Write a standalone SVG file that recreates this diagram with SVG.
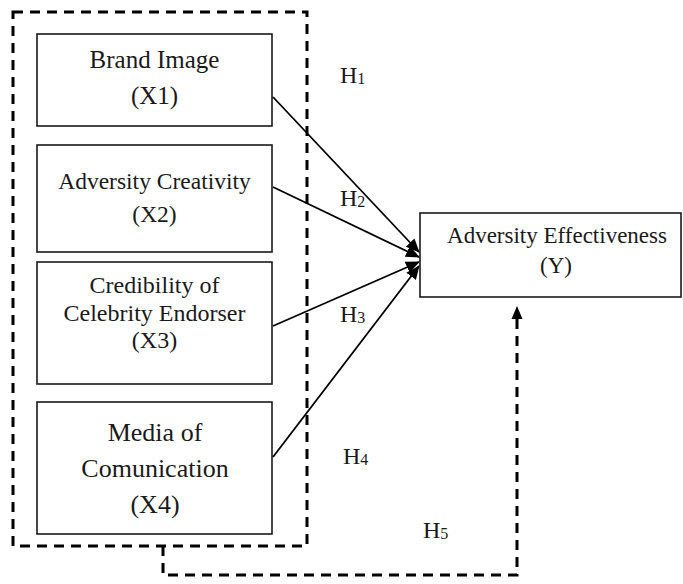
<svg xmlns="http://www.w3.org/2000/svg" width="683" height="584" viewBox="0 0 683 584">
  <style>
    .box { fill: #ffffff; stroke: #1a1a1a; stroke-width: 1.6; }
    .group { fill: none; stroke: #000000; stroke-width: 3; stroke-dasharray: 10 7; }
    .lbl { font-family: "Liberation Serif", "Times New Roman", serif; fill: #1a1a1a; text-anchor: middle; }
    .hyp { font-family: "Liberation Serif", "Times New Roman", serif; fill: #1a1a1a; font-size: 24px; }
    .sub { font-size: 16px; }
    .link { fill: none; stroke: #000000; stroke-width: 1.8; }
    .dlink { fill: none; stroke: #000000; stroke-width: 3; stroke-dasharray: 10 7; }
  </style>
  <defs>
    <marker id="arrow" markerUnits="userSpaceOnUse" markerWidth="14" markerHeight="12" viewBox="0 0 14 12" refX="13" refY="6" orient="auto">
      <path d="M0,0 L14,6 L0,12 Z" fill="#000000"/>
    </marker>
  </defs>

  <rect x="0" y="0" width="683" height="584" fill="#ffffff"/>

  <!-- dashed frame around the independent variables -->
  <rect class="group" x="13" y="12" width="294" height="534"/>

  <g id="x1">
    <rect class="box" x="37" y="34" width="235" height="92"/>
    <text class="lbl" x="154.5" y="68" font-size="25">Brand Image</text>
    <text class="lbl" x="154.5" y="104" font-size="25">(X1)</text>
  </g>

  <g id="x2">
    <rect class="box" x="37" y="145" width="235" height="107"/>
    <text class="lbl" x="154.5" y="189" font-size="23.5">Adversity Creativity</text>
    <text class="lbl" x="154.5" y="222" font-size="23.5">(X2)</text>
  </g>

  <g id="x3">
    <rect class="box" x="37" y="262" width="235" height="122"/>
    <text class="lbl" x="154.5" y="293" font-size="24">Credibility of</text>
    <text class="lbl" x="154.5" y="321" font-size="24">Celebrity Endorser</text>
    <text class="lbl" x="154.5" y="348" font-size="24">(X3)</text>
  </g>

  <g id="x4">
    <rect class="box" x="37" y="402" width="235" height="132"/>
    <text class="lbl" x="155" y="441" font-size="26">Media of</text>
    <text class="lbl" x="155" y="477" font-size="26">Comunication</text>
    <text class="lbl" x="155" y="513" font-size="26">(X4)</text>
  </g>

  <g id="y">
    <rect class="box" x="420" y="213" width="261" height="84"/>
    <text class="lbl" x="557" y="243" font-size="23">Adversity Effectiveness</text>
    <text class="lbl" x="556" y="273" font-size="23">(Y)</text>
  </g>

  <g id="connectors">
    <line class="link" x1="273" y1="97" x2="419" y2="252" marker-end="url(#arrow)"/>
    <line class="link" x1="273" y1="187" x2="419" y2="257" marker-end="url(#arrow)"/>
    <line class="link" x1="273" y1="326" x2="419" y2="262" marker-end="url(#arrow)"/>
    <line class="link" x1="273" y1="457" x2="419" y2="266" marker-end="url(#arrow)"/>
    <polyline class="dlink" points="163,546 163,575 517,575 517,318"/>
    <path d="M517,306 L522.5,319 L511.5,319 Z" fill="#000000"/>
  </g>

  <g id="hypotheses">
    <text class="hyp" x="340" y="83">H<tspan class="sub" dy="1">1</tspan></text>
    <text class="hyp" x="340" y="206">H<tspan class="sub" dy="1">2</tspan></text>
    <text class="hyp" x="340" y="322">H<tspan class="sub" dy="1">3</tspan></text>
    <text class="hyp" x="343" y="464">H<tspan class="sub" dy="1">4</tspan></text>
    <text class="hyp" x="423" y="538">H<tspan class="sub" dy="1">5</tspan></text>
  </g>
</svg>
